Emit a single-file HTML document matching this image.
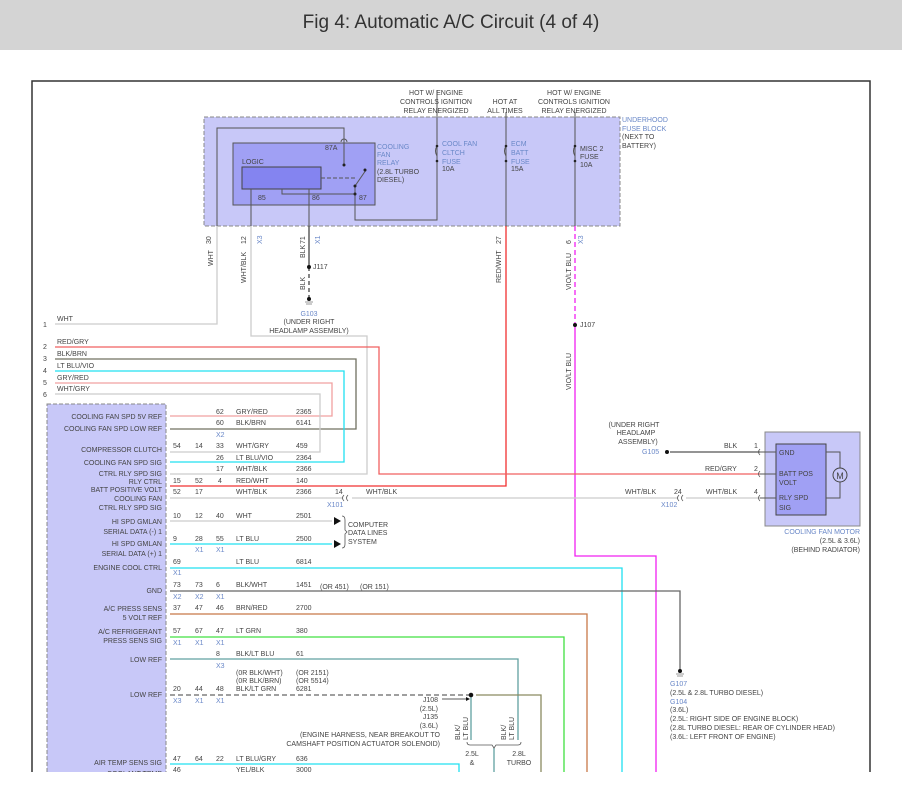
<!DOCTYPE html>
<html><head><style>
body{margin:0;width:902px;height:802px;overflow:hidden;background:#fff}
.h{position:absolute;left:0;top:0;width:902px;height:50px;background:#d4d4d4;font-family:"Liberation Sans",sans-serif;font-size:19px;color:#333;text-align:center;line-height:46px}
svg{position:absolute;left:0;top:0}
text{font-family:"Liberation Sans",sans-serif;font-size:7px;fill:#444}
.b{fill:#6a88c8}
.r{text-anchor:end}
.m{text-anchor:middle}
</style></head><body>
<div class="h">Fig 4: Automatic A/C Circuit (4 of 4)</div>
<svg width="902" height="802" viewBox="0 0 902 802">
<!-- frame -->
<polyline points="32,772 32,81 870,81 870,772" fill="none" stroke="#333" stroke-width="1.5"/>
<!-- fuse block -->
<rect x="204" y="117" width="416" height="109" fill="#c8c8f8" stroke="#888" stroke-dasharray="4,2"/>
<rect x="233" y="143" width="142" height="62" fill="#a0a0f4" stroke="#555"/>
<rect x="242" y="167" width="79" height="22" fill="#8484f0" stroke="#444"/>
<text x="242" y="164">LOGIC</text>
<text x="325" y="150">87A</text><text x="258" y="200">85</text><text x="312" y="200">86</text><text x="359" y="200">87</text>
<text class="b" x="377" y="149">COOLING</text><text class="b" x="377" y="157">FAN</text><text class="b" x="377" y="165">RELAY</text><text x="377" y="174">(2.8L TURBO</text><text x="377" y="182">DIESEL)</text>
<g fill="none" stroke="#555" stroke-width="1">
<polyline points="217,226 217,128 344,128 344,165"/>
<path d="M341,142 a3,3 0 0 1 6,0"/>
<line x1="251" y1="189" x2="251" y2="226"/><line x1="309" y1="189" x2="309" y2="226"/>
<polyline points="282,189 282,194 355,194"/>
<line x1="321" y1="178" x2="355" y2="178" stroke-dasharray="4,2"/>
<line x1="355" y1="186" x2="366" y2="170"/>
<polyline points="355,186 355,220 437,220 437,117"/>
<line x1="506" y1="117" x2="506" y2="226"/><line x1="575" y1="117" x2="575" y2="226"/>
<line x1="437" y1="90" x2="437" y2="117"/><line x1="506" y1="112" x2="506" y2="117"/><line x1="575" y1="112" x2="575" y2="117"/>
<path d="M437,146 q-3,5 0,10 M506,146 q-3,5 0,10 M575,146 q-3,5 0,10"/>
</g>
<g fill="#222"><circle cx="344" cy="165" r="1.5"/><circle cx="355" cy="186" r="1.5"/><circle cx="365" cy="170" r="1.5"/><circle cx="355" cy="194" r="1.5"/><circle cx="437" cy="146" r="1.3"/><circle cx="437" cy="161" r="1.3"/><circle cx="506" cy="146" r="1.3"/><circle cx="506" cy="161" r="1.3"/><circle cx="575" cy="146" r="1.3"/><circle cx="575" cy="161" r="1.3"/></g>
<text class="b" x="442" y="146">COOL FAN</text><text class="b" x="442" y="155">CLTCH</text><text class="b" x="442" y="164">FUSE</text><text x="442" y="171">10A</text>
<text class="b" x="511" y="146">ECM</text><text class="b" x="511" y="155">BATT</text><text class="b" x="511" y="164">FUSE</text><text x="511" y="171">15A</text>
<text x="580" y="151">MISC 2</text><text x="580" y="159">FUSE</text><text x="580" y="167">10A</text>
<text class="m" x="436" y="95">HOT W/ ENGINE</text><text class="m" x="436" y="104">CONTROLS IGNITION</text><text class="m" x="436" y="113">RELAY ENERGIZED</text>
<text class="m" x="505" y="104">HOT AT</text><text class="m" x="505" y="113">ALL TIMES</text>
<text class="m" x="574" y="95">HOT W/ ENGINE</text><text class="m" x="574" y="104">CONTROLS IGNITION</text><text class="m" x="574" y="113">RELAY ENERGIZED</text>
<text class="b" x="622" y="122">UNDERHOOD</text><text class="b" x="622" y="131">FUSE BLOCK</text><text x="622" y="139">(NEXT TO</text><text x="622" y="148">BATTERY)</text>
<!-- wires from fuse block -->
<g fill="none" stroke-width="1.3">
<polyline points="217,226 217,324 55,324" stroke="#ccc"/>
<polyline points="251,226 251,336 367,336 367,474 170,474" stroke="#ccc"/>
<line x1="309" y1="226" x2="309" y2="267" stroke="#444"/>
<line x1="309" y1="267" x2="309" y2="298" stroke="#444" stroke-dasharray="4,3"/>
<polyline points="506,226 506,486 170,486" stroke="#f03030"/>
<line x1="575" y1="226" x2="575" y2="325" stroke="#f020f0" stroke-dasharray="5,3"/>
<polyline points="575,325 575,556 656,556 656,772" stroke="#f020f0"/>
<polyline points="55,347 379,347 379,474 760,474" stroke="#f06060"/>
<polyline points="55,359 356,359 356,429 170,429" stroke="#707060"/>
<polyline points="55,371 344,371 344,462 170,462" stroke="#20e0f0"/>
<polyline points="55,383 332,383 332,416 170,416" stroke="#f0a0a0"/>
<polyline points="55,394 320,394 320,452 170,452" stroke="#ccc"/>
<polyline points="170,498 343,498" stroke="#ccc"/><polyline points="352,498 678,498" stroke="#ccc"/><polyline points="686,498 760,498" stroke="#ccc"/>
<line x1="670" y1="452" x2="760" y2="452" stroke="#555"/>
<line x1="170" y1="521" x2="332" y2="521" stroke="#ccc"/>
<line x1="170" y1="544" x2="332" y2="544" stroke="#20e0f0"/>
<polyline points="170,568 622,568 622,772" stroke="#20e0f0"/>
<polyline points="170,591 680,591 680,670" stroke="#666"/>
<polyline points="170,614 587,614 587,772" stroke="#c87848"/>
<polyline points="170,637 564,637 564,772" stroke="#40e040"/>
<polyline points="170,659 518,659 518,740" stroke="#60a0a0"/>
<line x1="170" y1="695" x2="471" y2="695" stroke="#666" stroke-dasharray="5,3"/>
<polyline points="476,695 541,695 541,772" stroke="#8a8a60"/>
<line x1="471" y1="695" x2="471" y2="740" stroke="#60a0a0"/>
<polyline points="170,764 459,764 459,772" stroke="#20e0f0"/>
<line x1="494" y1="748" x2="494" y2="772" stroke="#60a0a0"/>
<line x1="442" y1="699" x2="466" y2="699" stroke="#222" stroke-width="0.8"/>
<path d="M467,742 q0,3 3,3 h22 l2,3 l2,-3 h22 q3,0 3,-3 M342,516 q3,0 3,4 v10 l2,2 l-2,2 v10 q0,4 -3,4 M344,495 q-3,3 0,6 M348,495 q-3,3 0,6 M679,495 q-3,3 0,6 M683,495 q-3,3 0,6 M760,449 q-3,3 0,6 M760,471 q-3,3 0,6 M760,495 q-3,3 0,6" stroke="#555" stroke-width="0.8"/>
</g>
<path d="M466,697 l4,2 l-4,2z M334,517 l7,4 l-7,4z M334,540 l7,4 l-7,4z" fill="#111"/>
<g fill="#111"><circle cx="309" cy="267" r="2"/><circle cx="309" cy="299" r="2"/><circle cx="575" cy="325" r="2"/><circle cx="471" cy="695" r="2.3"/><circle cx="667" cy="452" r="2"/><circle cx="680" cy="671" r="2"/></g>
<path d="M305,302h8M306,304h6M676,674h8M677,676h6" stroke="#999"/>
<g transform="rotate(-90)">
<text x="-244" y="211">30</text><text x="-266" y="213">WHT</text>
<text x="-244" y="246">12</text><text x="-283" y="246">WHT/BLK</text><text class="b" x="-244" y="262">X3</text>
<text x="-244" y="305">71</text><text x="-258" y="305">BLK</text><text class="b" x="-244" y="320">X1</text><text x="-290" y="305">BLK</text>
<text x="-244" y="501">27</text><text x="-283" y="501">RED/WHT</text>
<text x="-244" y="571">6</text><text x="-290" y="571">VIO/LT BLU</text><text class="b" x="-244" y="583">X3</text>
<text x="-390" y="571">VIO/LT BLU</text>
<text x="-740" y="460">BLK/</text><text x="-740" y="468">LT BLU</text>
<text x="-740" y="506">BLK/</text><text x="-740" y="514">LT BLU</text>
</g>
<text x="313" y="269">J117</text><text x="580" y="327">J107</text>
<text class="b m" x="309" y="316">G103</text><text class="m" x="309" y="324">(UNDER RIGHT</text><text class="m" x="309" y="333">HEADLAMP ASSEMBLY)</text>
<!-- left wire labels -->
<text x="43" y="327">1</text><text x="57" y="321">WHT</text>
<text x="43" y="349">2</text><text x="57" y="344">RED/GRY</text>
<text x="43" y="361">3</text><text x="57" y="356">BLK/BRN</text>
<text x="43" y="373">4</text><text x="57" y="368">LT BLU/VIO</text>
<text x="43" y="385">5</text><text x="57" y="380">GRY/RED</text>
<text x="43" y="397">6</text><text x="57" y="391">WHT/GRY</text>
<!-- module -->
<rect x="47" y="404" width="119" height="380" fill="#c8c8f8" stroke="#888" stroke-dasharray="4,2"/>
<g class="r">
<text class="r" x="162" y="419">COOLING FAN SPD 5V REF</text>
<text class="r" x="162" y="431">COOLING FAN SPD LOW REF</text>
<text class="r" x="162" y="452">COMPRESSOR CLUTCH</text>
<text class="r" x="162" y="465">COOLING FAN SPD SIG</text>
<text class="r" x="162" y="476">CTRL RLY SPD SIG</text>
<text class="r" x="162" y="484">RLY CTRL</text>
<text class="r" x="162" y="492">BATT POSITIVE VOLT</text>
<text class="r" x="162" y="501">COOLING FAN</text>
<text class="r" x="162" y="510">CTRL RLY SPD SIG</text>
<text class="r" x="162" y="524">HI SPD GMLAN</text>
<text class="r" x="162" y="534">SERIAL DATA (-) 1</text>
<text class="r" x="162" y="546">HI SPD GMLAN</text>
<text class="r" x="162" y="556">SERIAL DATA (+) 1</text>
<text class="r" x="162" y="570">ENGINE COOL CTRL</text>
<text class="r" x="162" y="593">GND</text>
<text class="r" x="162" y="611">A/C PRESS SENS</text>
<text class="r" x="162" y="620">5 VOLT REF</text>
<text class="r" x="162" y="634">A/C REFRIGERANT</text>
<text class="r" x="162" y="643">PRESS SENS SIG</text>
<text class="r" x="162" y="662">LOW REF</text>
<text class="r" x="162" y="697">LOW REF</text>
<text class="r" x="162" y="765">AIR TEMP SENS SIG</text>
<text class="r" x="162" y="776">COOLANT TEMP</text>
</g>
<!-- row data -->
<text x="216" y="414">62</text><text x="236" y="414">GRY/RED</text><text x="296" y="414">2365</text>
<text x="216" y="425">60</text><text x="236" y="425">BLK/BRN</text><text x="296" y="425">6141</text><text class="b" x="216" y="437">X2</text>
<text x="173" y="448">54</text><text x="195" y="448">14</text><text x="216" y="448">33</text><text x="236" y="448">WHT/GRY</text><text x="296" y="448">459</text>
<text x="216" y="460">26</text><text x="236" y="460">LT BLU/VIO</text><text x="296" y="460">2364</text>
<text x="216" y="471">17</text><text x="236" y="471">WHT/BLK</text><text x="296" y="471">2366</text>
<text x="173" y="483">15</text><text x="195" y="483">52</text><text x="218" y="483">4</text><text x="236" y="483">RED/WHT</text><text x="296" y="483">140</text>
<text x="173" y="494">52</text><text x="195" y="494">17</text><text x="236" y="494">WHT/BLK</text><text x="296" y="494">2366</text><text x="335" y="494">14</text><text x="366" y="494">WHT/BLK</text><text class="b" x="327" y="507">X101</text>
<text x="173" y="518">10</text><text x="195" y="518">12</text><text x="216" y="518">40</text><text x="236" y="518">WHT</text><text x="296" y="518">2501</text>
<text x="173" y="541">9</text><text x="195" y="541">28</text><text x="216" y="541">55</text><text x="236" y="541">LT BLU</text><text x="296" y="541">2500</text><text class="b" x="195" y="552">X1</text><text class="b" x="216" y="552">X1</text>
<text x="348" y="527">COMPUTER</text><text x="348" y="535">DATA LINES</text><text x="348" y="544">SYSTEM</text>
<text x="173" y="564">69</text><text x="236" y="564">LT BLU</text><text x="296" y="564">6814</text><text class="b" x="173" y="575">X1</text>
<text x="173" y="587">73</text><text x="195" y="587">73</text><text x="216" y="587">6</text><text x="236" y="587">BLK/WHT</text><text x="296" y="587">1451</text><text x="320" y="589">(OR 451)</text><text x="360" y="589">(OR 151)</text>
<text class="b" x="173" y="599">X2</text><text class="b" x="195" y="599">X2</text><text class="b" x="216" y="599">X1</text>
<text x="173" y="610">37</text><text x="195" y="610">47</text><text x="216" y="610">46</text><text x="236" y="610">BRN/RED</text><text x="296" y="610">2700</text>
<text x="173" y="633">57</text><text x="195" y="633">67</text><text x="216" y="633">47</text><text x="236" y="633">LT GRN</text><text x="296" y="633">380</text>
<text class="b" x="173" y="645">X1</text><text class="b" x="195" y="645">X1</text><text class="b" x="216" y="645">X1</text>
<text x="216" y="656">8</text><text x="236" y="656">BLK/LT BLU</text><text x="296" y="656">61</text><text class="b" x="216" y="668">X3</text>
<text x="236" y="675">(0R BLK/WHT)</text><text x="296" y="675">(OR 2151)</text>
<text x="236" y="683">(0R BLK/BRN)</text><text x="296" y="683">(OR 5514)</text>
<text x="173" y="691">20</text><text x="195" y="691">44</text><text x="216" y="691">48</text><text x="236" y="691">BLK/LT GRN</text><text x="296" y="691">6281</text>
<text class="b" x="173" y="703">X3</text><text class="b" x="195" y="703">X1</text><text class="b" x="216" y="703">X1</text>
<text class="r" x="438" y="702">J108</text><text class="r" x="438" y="711">(2.5L)</text><text class="r" x="438" y="719">J135</text><text class="r" x="438" y="728">(3.6L)</text>
<text class="r" x="440" y="737">(ENGINE HARNESS, NEAR BREAKOUT TO</text><text class="r" x="440" y="746">CAMSHAFT POSITION ACTUATOR SOLENOID)</text>
<text class="m" x="472" y="756">2.5L</text><text class="m" x="472" y="765">&amp;</text>
<text class="m" x="519" y="756">2.8L</text><text class="m" x="519" y="765">TURBO</text>
<text x="173" y="761">47</text><text x="195" y="761">64</text><text x="216" y="761">22</text><text x="236" y="761">LT BLU/GRY</text><text x="296" y="761">636</text>
<text x="173" y="772">46</text><text x="236" y="772">YEL/BLK</text><text x="296" y="772">3000</text>
<!-- G107 -->
<text class="b" x="670" y="686">G107</text><text x="670" y="695">(2.5L &amp; 2.8L TURBO DIESEL)</text><text class="b" x="670" y="704">G104</text><text x="670" y="712">(3.6L)</text>
<text x="670" y="721">(2.5L: RIGHT SIDE OF ENGINE BLOCK)</text><text x="670" y="730">(2.8L TURBO DIESEL: REAR OF CYLINDER HEAD)</text><text x="670" y="739">(3.6L: LEFT FRONT OF ENGINE)</text>
<!-- motor -->
<rect x="765" y="432" width="95" height="94" fill="#c8c8f8" stroke="#888"/>
<rect x="776" y="444" width="50" height="71" fill="#a0a0f4" stroke="#444"/>
<polyline points="826,452 840,452 840,498 826,498" fill="none" stroke="#555"/>
<circle cx="840" cy="475" r="7" fill="#c8c8f8" stroke="#444"/>
<text class="m" x="840" y="479" style="font-size:9px">M</text>
<path d="M760,452h16M760,474h16M760,498h16" stroke="#555"/>
<text x="779" y="455">GND</text><text x="779" y="476">BATT POS</text><text x="779" y="485">VOLT</text><text x="779" y="500">RLY SPD</text><text x="779" y="510">SIG</text>
<text x="754" y="448">1</text><text x="754" y="471">2</text><text x="754" y="494">4</text>
<text x="724" y="448">BLK</text><text x="705" y="471">RED/GRY</text><text x="706" y="494">WHT/BLK</text>
<text x="674" y="494">24</text><text x="625" y="494">WHT/BLK</text><text class="b" x="661" y="507">X102</text>
<text class="m" x="634" y="427">(UNDER RIGHT</text><text class="m" x="636" y="435">HEADLAMP</text><text class="m" x="638" y="444">ASSEMBLY)</text><text class="b" x="642" y="454">G105</text>
<text class="b r" x="860" y="534">COOLING FAN MOTOR</text><text class="r" x="860" y="543">(2.5L &amp; 3.6L)</text><text class="r" x="860" y="552">(BEHIND RADIATOR)</text>
<rect x="0" y="772" width="902" height="30" fill="#fff"/>
</svg>
</body></html>
